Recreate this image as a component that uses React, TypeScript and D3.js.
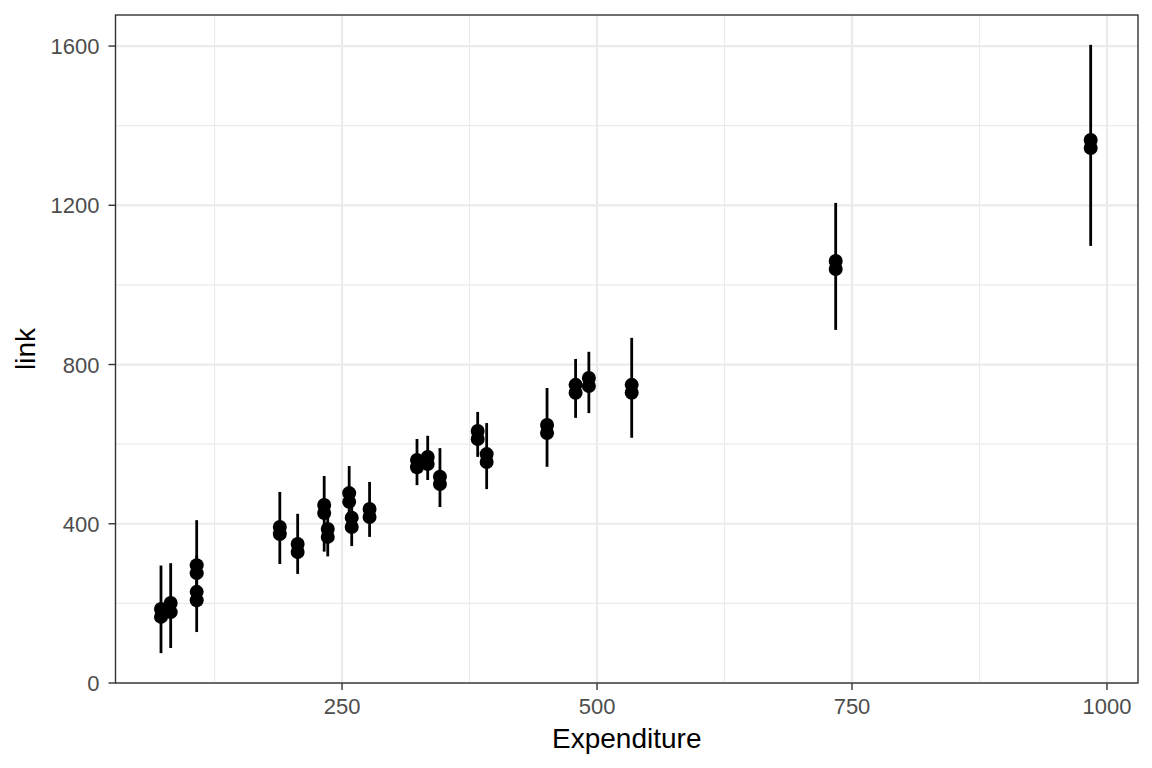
import React from "react";
import * as d3 from "d3";

// Expenditure of each observation
const expenditure = [72.5, 82, 107.5, 107.5, 189, 206.5, 232.5, 236, 257, 259.5, 277, 323.5, 334, 346, 383, 391.8, 451, 479, 492, 534, 734, 984];
// the two estimates per observation
const linkUpper = [186, 201, 296, 229, 392, 349, 447, 387, 477, 415, 437, 560, 568, 518, 633, 575, 648, 749, 766, 749, 1060, 1364];
const linkLower = [166, 178, 276, 208, 374, 329, 427, 367, 455, 392, 417, 542, 550, 500, 613, 555, 628, 729, 746, 729, 1040, 1344];
// interval bounds
const linkLow = [75, 88, 190, 128, 299, 274, 330, 318, 400, 344, 367, 497, 510, 442, 568, 487, 543, 666, 678, 616, 887, 1098];
const linkHigh = [295, 301, 409, 320, 480, 425, 520, 460, 545, 470, 505, 613, 621, 590, 681, 653, 741, 814, 832, 867, 1206, 1603];

const xTicks = [250, 500, 750, 1000];
const xMinor = [125, 375, 625, 875];
const yTicks = [0, 400, 800, 1200, 1600];
const yMinor = [200, 600, 1000, 1400];

const W = 1152;
const H = 768;
const margin = { top: 15, right: 14, bottom: 85, left: 115.5 };

export default function App() {
  const x = d3
    .scaleLinear()
    .domain([27.9, 1030.4])
    .range([margin.left, W - margin.right]);
  const y = d3
    .scaleLinear()
    .domain([0, 1678])
    .range([H - margin.bottom, margin.top]);

  const [x0, x1] = x.range();
  const [y0, y1] = y.range();
  const font = "'Liberation Sans', Arial, Helvetica, sans-serif";

  return (
    <svg width={W} height={H} style={{ position: "absolute", left: 0, top: 0 }} fontFamily={font}>
      <rect x={0} y={0} width={W} height={H} fill="white" />
      {/* minor grid */}
      {xMinor.map((t) => (
        <line key={"xm" + t} x1={x(t)} x2={x(t)} y1={y0} y2={y1} stroke="#ebebeb" strokeWidth={1.1} />
      ))}
      {yMinor.map((t) => (
        <line key={"ym" + t} x1={x0} x2={x1} y1={y(t)} y2={y(t)} stroke="#ebebeb" strokeWidth={1.1} />
      ))}
      {/* major grid */}
      {xTicks.map((t) => (
        <line key={"xg" + t} x1={x(t)} x2={x(t)} y1={y0} y2={y1} stroke="#ebebeb" strokeWidth={2.2} />
      ))}
      {yTicks.map((t) => (
        <line key={"yg" + t} x1={x0} x2={x1} y1={y(t)} y2={y(t)} stroke="#ebebeb" strokeWidth={2.2} />
      ))}

      {/* interval bars */}
      {expenditure.map((e, i) => (
        <line key={"b" + i} x1={x(e)} x2={x(e)} y1={y(linkLow[i])} y2={y(linkHigh[i])} stroke="black" strokeWidth={2.8} />
      ))}
      {/* points */}
      {expenditure.map((e, i) => (
        <g key={"p" + i}>
          <circle cx={x(e)} cy={y(linkUpper[i])} r={7} fill="black" />
          <circle cx={x(e)} cy={y(linkLower[i])} r={7} fill="black" />
        </g>
      ))}

      {/* panel border */}
      <rect x={x0} y={y1} width={x1 - x0} height={y0 - y1} fill="none" stroke="#333333" strokeWidth={1.4} />

      {/* x axis */}
      {xTicks.map((t) => (
        <g key={"xt" + t}>
          <line x1={x(t)} x2={x(t)} y1={y0} y2={y0 + 7} stroke="#333333" strokeWidth={1.4} />
          <text x={x(t)} y={y0 + 31} textAnchor="middle" fontSize={22} fill="#4d4d4d">
            {t}
          </text>
        </g>
      ))}
      {/* y axis */}
      {yTicks.map((t) => (
        <g key={"yt" + t}>
          <line x1={x0 - 7} x2={x0} y1={y(t)} y2={y(t)} stroke="#333333" strokeWidth={1.4} />
          <text x={x0 - 16} y={y(t) + 8} textAnchor="end" fontSize={22} fill="#4d4d4d">
            {t}
          </text>
        </g>
      ))}

      <text x={(x0 + x1) / 2} y={748} textAnchor="middle" fontSize={28} fill="black">
        Expenditure
      </text>
      <text transform={`translate(35,${(y0 + y1) / 2}) rotate(-90)`} textAnchor="middle" fontSize={28} fill="black">
        link
      </text>
    </svg>
  );
}
